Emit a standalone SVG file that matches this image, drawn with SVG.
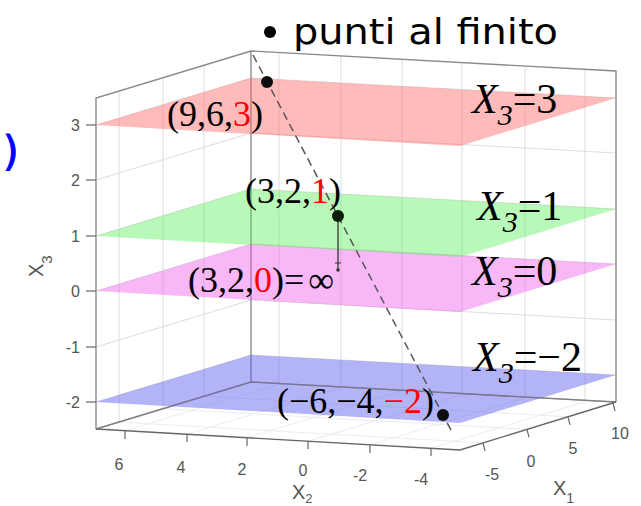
<svg xmlns="http://www.w3.org/2000/svg" width="641" height="506" viewBox="0 0 641 506">
<style>
.grid{stroke:#dddddd;stroke-width:1;fill:none}
.floor{stroke:#ececec;stroke-width:1;fill:none}
.edge{stroke:#8a8a8a;stroke-width:1.4;fill:none}
.tick{stroke:#666;stroke-width:1.2}
.tl{font-family:"Liberation Sans",Arial,sans-serif;font-size:16px;fill:#555}
.al{font-family:"Liberation Sans",Arial,sans-serif;font-size:20px;fill:#555}
.coord{font-family:"Liberation Serif","Times New Roman",serif;font-size:36px;fill:#000}
.red{fill:#ff0000}
.eq{font-family:"Liberation Serif","Times New Roman",serif;font-size:42px;fill:#000}
.it{font-style:italic}
.dot{fill:#0d0d0d}
</style>
<g id="axes-box">
  <g class="grid">
    <line x1="119" y1="91" x2="119" y2="422"/>
    <line x1="163" y1="77.7" x2="163" y2="408.7"/>
    <line x1="204" y1="65.3" x2="204" y2="396.3"/>
    <line x1="279" y1="52.5" x2="279" y2="383.5"/>
    <line x1="341" y1="55.9" x2="341" y2="386.9"/>
    <line x1="402" y1="59.3" x2="402" y2="390.3"/>
    <line x1="462" y1="62.6" x2="462" y2="393.6"/>
    <line x1="525" y1="66" x2="525" y2="397"/>
    <line x1="585" y1="69.3" x2="585" y2="400.3"/>
    <polyline points="96,125 251,78 616,98"/>
    <polyline points="96,180 251,133 616,153"/>
    <polyline points="96,236 251,189 616,209"/>
    <polyline points="96,291 251,244 616,264"/>
    <polyline points="96,347 251,300 616,320"/>
    <polyline points="96,402 251,355 616,375"/>
  </g>
  <g class="floor">
    <line x1="125" y1="430.7" x2="280" y2="383.7"/>
    <line x1="187" y1="434.2" x2="342" y2="387.2"/>
    <line x1="247" y1="437.7" x2="402" y2="390.7"/>
    <line x1="308" y1="441.2" x2="463" y2="394.2"/>
    <line x1="370" y1="444.8" x2="525" y2="397.8"/>
    <line x1="431" y1="448.3" x2="586" y2="401.3"/>
    <line x1="119" y1="422" x2="483" y2="442.9"/>
    <line x1="163" y1="408.7" x2="527" y2="429.4"/>
    <line x1="204" y1="396.3" x2="568" y2="416.8"/>
  </g>
  <polyline class="edge" points="96,429 96,98 251,51 616,71 616,402"/>
  <line class="edge" x1="251" y1="51" x2="251" y2="382"/>
  <polyline class="edge" points="96,429 251,382 616,402"/>
  <polyline class="edge" points="96,429 460,450 616,402" style="stroke:#666"/>
</g>
<g id="plane-blue">
  <polygon points="96,402 251,355 616,375 460,423" fill="#6060ee" fill-opacity="0.48"/>
</g>
<g id="plane-magenta">
  <polygon points="96,291 251,244 616,264 460,312" fill="#ee55ee" fill-opacity="0.42"/>
</g>
<g id="plane-green">
  <polygon points="96,236 251,189 616,209 460,257" fill="#55ee55" fill-opacity="0.42"/>
</g>
<g id="plane-red">
  <polygon points="96,125 251,78 616,98 460,146" fill="#ff6666" fill-opacity="0.45"/>
</g>
<g id="box-bottom-edges">
  <polyline points="96,429 251,382 616,402" fill="none" stroke="#777" stroke-width="1.2" stroke-opacity="0.7"/>
</g>
<g id="z-axis">
  <g class="tick">
    <line x1="86" y1="125" x2="96" y2="125"/>
    <line x1="86" y1="180" x2="96" y2="180"/>
    <line x1="86" y1="236" x2="96" y2="236"/>
    <line x1="86" y1="291" x2="96" y2="291"/>
    <line x1="86" y1="347" x2="96" y2="347"/>
    <line x1="86" y1="402" x2="96" y2="402"/>
  </g>
  <g class="tl" text-anchor="end">
    <text x="80" y="131">3</text>
    <text x="80" y="186">2</text>
    <text x="80" y="242">1</text>
    <text x="80" y="297">0</text>
    <text x="80" y="353">-1</text>
    <text x="80" y="408">-2</text>
  </g>
  <text class="al" transform="translate(43,277) rotate(-90)">X<tspan font-size="15" dy="9">3</tspan></text>
</g>
<g id="x2-axis">
  <g class="tick">
    <line x1="125" y1="431" x2="125" y2="439"/>
    <line x1="187" y1="434" x2="187" y2="442"/>
    <line x1="247" y1="438" x2="247" y2="446"/>
    <line x1="308" y1="441" x2="308" y2="449"/>
    <line x1="370" y1="445" x2="370" y2="453"/>
    <line x1="431" y1="448" x2="431" y2="456"/>
  </g>
  <g class="tl" text-anchor="middle">
    <text x="119" y="470">6</text>
    <text x="181" y="473">4</text>
    <text x="242" y="475">2</text>
    <text x="303" y="476">0</text>
    <text x="360" y="481">-2</text>
    <text x="421" y="485">-4</text>
  </g>
  <text class="al" x="292" y="499">X<tspan font-size="13" dy="4">2</tspan></text>
</g>
<g id="x1-axis">
  <g class="tick">
    <line x1="483" y1="443" x2="485" y2="451"/>
    <line x1="527" y1="429.4" x2="529" y2="437.4"/>
    <line x1="568" y1="416.8" x2="570" y2="424.8"/>
    <line x1="613" y1="403" x2="615" y2="411"/>
  </g>
  <g class="tl" text-anchor="middle">
    <text x="492" y="480">-5</text>
    <text x="531" y="467">0</text>
    <text x="573" y="454">5</text>
    <text x="620" y="439">10</text>
  </g>
  <text class="al" x="553" y="495">X<tspan font-size="14" dy="8">1</tspan></text>
</g>
<g id="connectors">
  <line x1="253" y1="55" x2="452" y2="432" stroke="#555" stroke-width="1.5" stroke-dasharray="8,5"/>
  <line x1="338" y1="216" x2="338" y2="271" stroke="#333" stroke-width="1.3"/>
  <line x1="335" y1="263" x2="341" y2="263" stroke="#333" stroke-width="1"/>
  <circle cx="338" cy="270" r="1.8" fill="#333"/>
</g>
<g id="point-963">
  <circle class="dot" cx="267" cy="82" r="6"/>
  <text class="coord" x="167" y="126">(9,6,<tspan class="red">3</tspan>)</text>
</g>
<g id="point-321">
  <circle class="dot" cx="338" cy="216" r="6" style="fill:#0a200a"/>
  <text class="coord" x="245" y="203">(3,2,<tspan class="red">1</tspan>)</text>
</g>
<g id="point-320">
  <text class="coord" x="188" y="292" font-size="32">(3,2,<tspan class="red">0</tspan>)=<tspan dx="4">∞</tspan></text>
</g>
<g id="point-m6m4m2">
  <circle class="dot" cx="443" cy="415" r="6"/>
  <text class="coord" x="277" y="413">(−6,−4,<tspan class="red">−2</tspan>)</text>
</g>
<g id="label-x3-3">
  <text class="eq" x="472" y="113"><tspan class="it">X</tspan><tspan class="it" font-size="30" dy="12">3</tspan><tspan dy="-12">=3</tspan></text>
</g>
<g id="label-x3-1">
  <text class="eq" x="477" y="220"><tspan class="it">X</tspan><tspan class="it" font-size="30" dy="12">3</tspan><tspan dy="-12">=1</tspan></text>
</g>
<g id="label-x3-0">
  <text class="eq" x="472" y="285"><tspan class="it">X</tspan><tspan class="it" font-size="30" dy="12">3</tspan><tspan dy="-12">=0</tspan></text>
</g>
<g id="label-x3-m2">
  <text class="eq" x="473" y="371"><tspan class="it">X</tspan><tspan class="it" font-size="30" dy="12">3</tspan><tspan dy="-12">=−2</tspan></text>
</g>
<g id="title">
  <circle cx="270" cy="32" r="6" fill="#000"/>
  <text x="293" y="44" font-family="'DejaVu Sans','Liberation Sans',sans-serif" font-size="35" textLength="265" lengthAdjust="spacingAndGlyphs" fill="#000">punti al finito</text>
</g>
<g id="blue-fragment">
  <text x="3" y="165" font-family="'DejaVu Sans','Liberation Sans',sans-serif" font-size="40" fill="#0000ff" stroke="#0000ff" stroke-width="1">)</text>
</g>
</svg>
